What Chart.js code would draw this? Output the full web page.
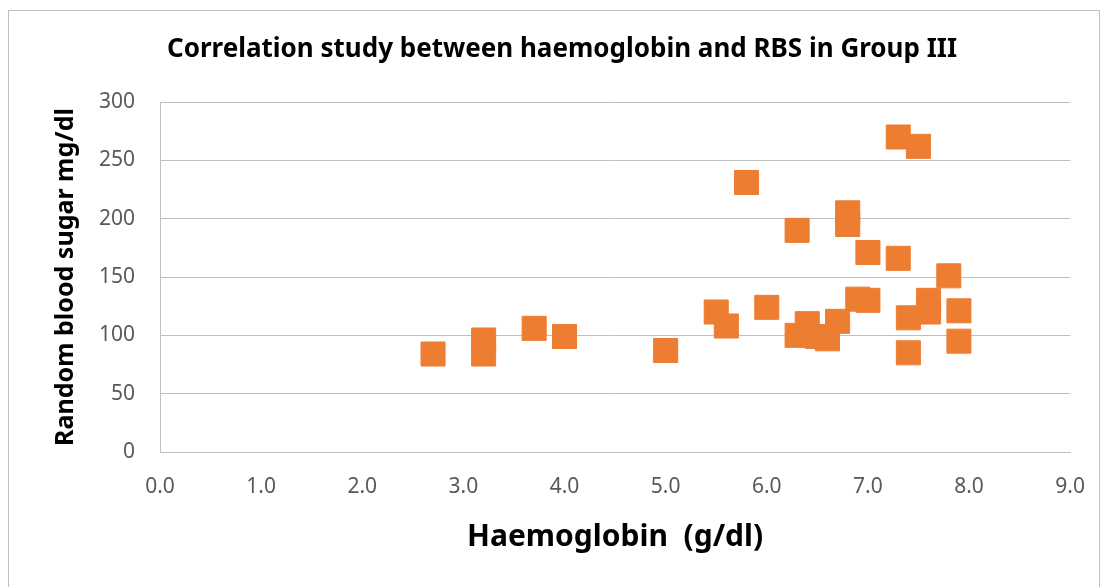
<!DOCTYPE html>
<html>
<head>
<meta charset="utf-8">
<script src="https://cdn.jsdelivr.net/npm/chart.js@4.4.1/dist/chart.umd.min.js"></script>
<style>
  html, body { margin: 0; padding: 0; background: #fff; }
  #wrap { position: relative; width: 1107px; height: 587px; }
  #frame { position: absolute; left: 8px; top: 10px; width: 1090px; height: 600px; border: 1px solid #bfbfbf; }
  canvas { position: absolute; left: 0; top: 0; }
</style>
</head>
<body>
<div id="wrap">
  <div id="frame"></div>
  <canvas id="chart" width="1107" height="587"></canvas>
</div>
<script>
// Haemoglobin (g/dl) vs random blood sugar (mg/dl), Group III
const hbValues = [2.7, 3.2, 3.2, 3.7, 4.0, 5.0, 5.5, 5.6, 5.8, 6.0, 6.3, 6.3, 6.4, 6.5, 6.6, 6.7,
                  6.8, 6.8, 6.9, 7.0, 7.0, 7.3, 7.3, 7.4, 7.4, 7.5, 7.6, 7.6, 7.8, 7.9, 7.9];
const rbsValues = [84, 96, 84, 106, 99, 87, 120, 108, 231, 124, 190, 100, 110, 99, 97, 112,
                   205, 195, 131, 171, 130, 270, 166, 115, 85, 262, 130, 120, 151, 121, 95];
const xTicks = [0, 1, 2, 3, 4, 5, 6, 7, 8, 9];
const yTicks = [0, 50, 100, 150, 200, 250, 300];

const chartTitle = 'Correlation study between haemoglobin and RBS in Group III';
const xTitle = 'Haemoglobin  (g/dl)';
const yTitle = 'Random blood sugar mg/dl';

const points = hbValues.map((x, i) => ({ x: x, y: rbsValues[i] }));

const FONT = "'Noto Sans', 'Open Sans', sans-serif";

// title sits a bit right of centre in the original, so draw it by hand
const titlePlugin = {
  id: 'manualTitle',
  afterDraw(chart) {
    const ctx = chart.ctx;
    ctx.save();
    ctx.font = "bold 26px " + FONT;
    ctx.fillStyle = '#000';
    ctx.textAlign = 'center';
    ctx.textBaseline = 'middle';
    ctx.fillText(chartTitle, 562, 50);
    ctx.restore();
  }
};

new Chart(document.getElementById('chart'), {
  type: 'scatter',
  data: {
    datasets: [{
      label: 'RBS',
      data: points,
      pointStyle: 'rect',
      pointRadius: 17,
      pointHoverRadius: 17,
      backgroundColor: '#ed7d31',
      borderColor: '#ed7d31',
      borderWidth: 1
    }]
  },
  plugins: [titlePlugin],
  options: {
    responsive: false,
    animation: false,
    layout: { padding: { left: 0, right: 35, top: 102, bottom: 0 } },
    plugins: {
      legend: { display: false },
      tooltip: { enabled: false },
      title: { display: false }
    },
    scales: {
      x: {
        type: 'linear',
        min: 0,
        max: 9,
        afterBuildTicks: s => { s.ticks = xTicks.map(v => ({ value: v })); },
        afterFit: s => { s.height = 135; },
        ticks: {
          color: '#595959',
          padding: 22,
          font: { family: FONT, size: 21 },
          callback: v => Number(v).toFixed(1)
        },
        grid: { display: false, drawTicks: false },
        border: { display: true, color: '#bfbfbf', width: 1 },
        title: {
          display: true,
          text: xTitle,
          color: '#000',
          font: { family: FONT, size: 30, weight: 'bold', lineHeight: 1.2 },
          padding: { top: 0, bottom: 32 }
        }
      },
      y: {
        type: 'linear',
        min: 0,
        max: 300,
        afterBuildTicks: s => { s.ticks = yTicks.map(v => ({ value: v })); },
        afterFit: s => { s.width = 160; },
        ticks: {
          color: '#595959',
          padding: 25,
          font: { family: FONT, size: 21 }
        },
        grid: { color: '#bfbfbf', lineWidth: 1, drawTicks: false },
        border: { display: true, color: '#bfbfbf', width: 1 },
        title: {
          display: true,
          text: yTitle,
          color: '#000',
          font: { family: FONT, size: 25, weight: 'bold', lineHeight: 1.2 },
          padding: { top: 51, bottom: 0 }
        }
      }
    }
  }
});
</script>
</body>
</html>
